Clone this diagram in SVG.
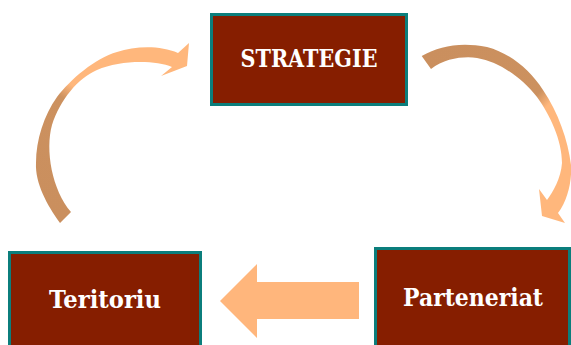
<svg xmlns="http://www.w3.org/2000/svg" width="571" height="345" viewBox="0 0 571 345">
<defs>
<style>
.box{fill:#861E00;stroke:#0B7E7C;stroke-width:3}
.lbl{font-family:"DejaVu Serif","Liberation Serif",serif;font-weight:bold;font-size:24px;fill:#FFFFFF;text-anchor:middle}
</style>
<linearGradient id="gL" gradientUnits="userSpaceOnUse" x1="40" y1="200" x2="150" y2="40">
<stop offset="0" stop-color="#CA8F5E"/>
<stop offset="0.5" stop-color="#CC915F"/>
<stop offset="0.58" stop-color="#FFB77C"/>
<stop offset="1" stop-color="#FFB77C"/>
</linearGradient>
<linearGradient id="gR" gradientUnits="userSpaceOnUse" x1="430" y1="50" x2="570" y2="180">
<stop offset="0" stop-color="#CA8F5E"/>
<stop offset="0.57" stop-color="#CC915F"/>
<stop offset="0.65" stop-color="#FFB77C"/>
<stop offset="1" stop-color="#FFB77C"/>
</linearGradient>
</defs>
<rect width="571" height="345" fill="#FFFFFF"/>
<g id="connectors">
<path id="arrow-teritoriu-strategie" fill="url(#gL)" d="M60,223 C47,205 35,183 36,163 C36,140 44,115 57,97 C70,80 95,58 117,52 C135,46 160,45 178,53 L189,43 L187,66 L161,76 L172,67 C155,60 120,60 97,70 C78,78 60,100 52,125 C45,150 52,190 71,212 Z"/>
<path id="arrow-strategie-parteneriat" fill="url(#gR)" d="M421.7,56 C440,46 460,42 487,47 C510,53 530,70 543,90 C558,112 568,140 571,165 C572,180 568,200 558,213 L565,223 L542,216 L539,189 L547,200 C553,192 561,178 562,163 C562,140 550,115 537,97 C522,78 500,62 477,58 C465,56 445,58 431,69 Z"/>
<polygon id="arrow-parteneriat-teritoriu" fill="#FFB67C" points="220,301 257,264 257,282 359,282 359,319 257,319 257,338"/>
</g>
<g id="node-strategie">
<rect class="box" x="211.5" y="14.5" width="195" height="90"/>
<text class="lbl" x="309" y="67" textLength="137" lengthAdjust="spacingAndGlyphs">STRATEGIE</text>
</g>
<g id="node-teritoriu">
<rect class="box" x="9.5" y="252.5" width="191" height="100"/>
<text class="lbl" x="105" y="308" textLength="112" lengthAdjust="spacingAndGlyphs">Teritoriu</text>
</g>
<g id="node-parteneriat">
<rect class="box" x="375.5" y="248.5" width="194" height="110"/>
<text class="lbl" x="473" y="306" textLength="140" lengthAdjust="spacingAndGlyphs">Parteneriat</text>
</g>
</svg>
